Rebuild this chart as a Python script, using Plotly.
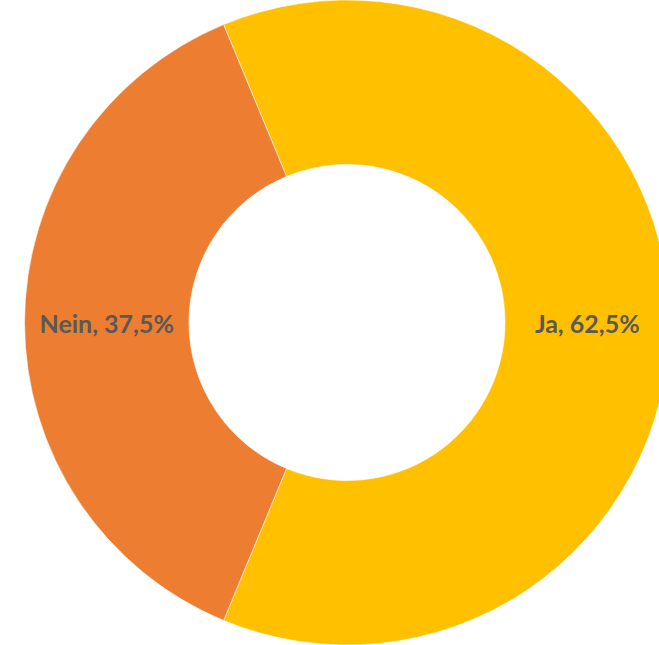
import plotly.graph_objects as go

labels = ["Ja", "Nein"]
values = [62.5, 37.5]
colors = ["#FFC000", "#ED7D31"]

fig = go.Figure(
    go.Pie(
        labels=labels,
        values=values,
        hole=0.49,
        sort=False,
        direction="clockwise",
        rotation=-22.5,
        marker=dict(colors=colors, line=dict(color="rgba(255,255,255,0.6)", width=1)),
        texttemplate="<b>%{label}, %{percent:.1%}</b>",
        textposition="inside",
        insidetextorientation="horizontal",
        textfont=dict(family="Lato", size=25, color="#595959"),
        showlegend=False,
        hoverinfo="label+percent",
    )
)

# circle centre sits right of the middle and gets clipped at the right edge
fig.update_layout(
    width=694,
    height=645,
    margin=dict(l=0, r=0, t=0, b=0),
    paper_bgcolor="white",
    separators=",.",
)

fig.write_html(
    "out.html",
    config={"displayModeBar": False},
    post_script="document.body.style.margin='0';document.body.style.overflow='hidden';",
)
